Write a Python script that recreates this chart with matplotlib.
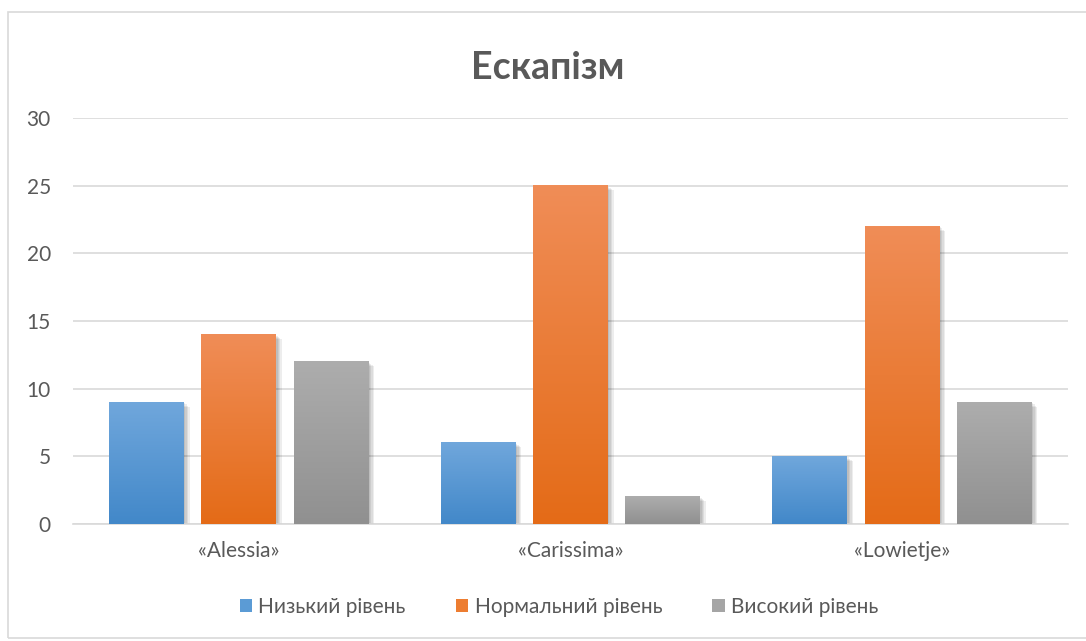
import numpy as np
import matplotlib
matplotlib.use("Agg")
import matplotlib.pyplot as plt
from matplotlib.colors import LinearSegmentedColormap
from matplotlib.patches import Rectangle, Patch
import matplotlib.patheffects as pe

plt.rcParams['font.family'] = ['Lato', 'DejaVu Sans']

categories = ["«Alessia»", "«Carissima»", "«Lowietje»"]
series_names = ["Низький рівень", "Нормальний рівень", "Високий рівень"]
low_level = [9, 6, 5]
normal_level = [14, 25, 22]
high_level = [12, 2, 9]
title = "Ескапізм"

# top / bottom colours of each series' vertical gradient
gradients = [("#70a7dc", "#4288c9"), ("#f08d57", "#e46b17"), ("#adadad", "#909090")]
legend_colors = ["#5b9bd5", "#ed7d31", "#a5a5a5"]

fig = plt.figure(figsize=(10.86, 6.41), dpi=100)
fig.patches.append(Rectangle((8 / 1086, 3 / 641), 1.2, (641 - 15) / 641,
                             transform=fig.transFigure, fill=False,
                             edgecolor="#d9d9d9", linewidth=1.2))
ax = fig.add_axes([73 / 1086, (641 - 524) / 641, (1068 - 73) / 1086, (524 - 118) / 641])

x = np.arange(len(categories))
width = 0.226
step = 0.278
series = [low_level, normal_level, high_level]

# soft drop shadow built from a few faint offset layers
shadow = [pe.SimplePatchShadow(offset=(d, -d * 0.8), shadow_rgbFace="#000000", alpha=0.07)
          for d in (1, 2, 3, 4)] + [pe.Normal()]

for i, (vals, (c_top, c_bot)) in enumerate(zip(series, gradients)):
    cmap = LinearSegmentedColormap.from_list(f"g{i}", [c_bot, c_top])
    bars = ax.bar(x + (i - 1) * step, vals, width, color=c_bot, zorder=2,
                  path_effects=shadow)
    for b in bars:
        x0, y0 = b.get_x(), b.get_y()
        w, h = b.get_width(), b.get_height()
        grad = np.linspace(0, 1, 256).reshape(-1, 1)
        ax.imshow(grad, cmap=cmap, origin="lower", aspect="auto",
                  extent=(x0, x0 + w, y0, y0 + h), zorder=3, interpolation="bilinear")

ax.set_xlim(-0.5, 2.5)
ax.set_ylim(0, 30)
ax.set_yticks(range(0, 31, 5))
ax.set_xticks(x)
ax.set_xticklabels(categories)
ax.yaxis.grid(True, color="#d9d9d9", linewidth=1.2, zorder=0)
ax.set_axisbelow(True)
for s in ["top", "right", "left"]:
    ax.spines[s].set_visible(False)
ax.spines["bottom"].set_color("#d9d9d9")
ax.spines["bottom"].set_linewidth(1.2)
ax.tick_params(axis="both", length=0, labelsize=15, colors="#595959")
ax.tick_params(axis="y", pad=16)
ax.tick_params(axis="x", pad=12)

fig.text(548 / 1086, 1 - 68 / 641, title, ha="center", va="center",
         fontsize=27, fontweight="bold", color="#595959")

handles = [Patch(facecolor=c, edgecolor="none") for c in legend_colors]
fig.legend(handles, series_names, loc="center", bbox_to_anchor=(559 / 1086, 1 - 607 / 641),
           ncol=3, frameon=False, fontsize=15, labelcolor="#595959",
           handlelength=0.6, handleheight=0.6, handletextpad=0.3, columnspacing=2.4)

fig.savefig("out.png", dpi=100, facecolor="white")
